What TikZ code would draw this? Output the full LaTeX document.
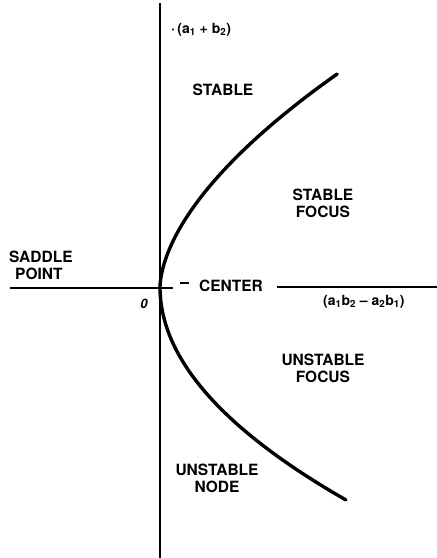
\documentclass[tikz,border=0pt]{standalone}
\usepackage{fontspec}
\setmainfont{TeX Gyre Heros}
\begin{document}
\begin{tikzpicture}[x=1pt,y=-1pt,
  lbl/.style={font=\bfseries\fontsize{15.5}{17}\selectfont, align=center, inner sep=0pt},
  frm/.style={font=\bfseries\fontsize{14}{15}\selectfont, inner sep=0pt},
  axis/.style={line width=1.4pt},
  curve/.style={line width=3.4pt, line cap=round}]
\useasboundingbox (0,0) rectangle (437,558);
% axes
\coordinate (vtop) at (160,3);
\coordinate (vbot) at (160,558);
\draw[axis] (vtop) -- (vbot);
\coordinate (hl) at (10,288);
\coordinate (hm) at (173,288);
\draw[axis] (hl) -- (hm);
\coordinate (hr1) at (277,287);
\coordinate (hr2) at (437,287);
\draw[axis] (hr1) -- (hr2);
\coordinate (d1) at (180,283);
\coordinate (d2) at (189,283);
\draw[line width=1.8pt] (d1) -- (d2);
% parabola-like boundary
\draw[curve] plot[domain=2.13:0, samples=60, smooth] ({160+49*\x^1.7}, {287-100*\x})
  -- plot[domain=0:2.13, samples=60, smooth] ({160+41*\x*\x}, {287+100*\x});
% labels
\node[frm, anchor=west] (yl) at (171,30) {\textperiodcentered\,(a\textsubscript{1} + b\textsubscript{2})};
\node[lbl] (st) at (223,90) {STABLE};
\node[lbl] (sf) at (323,203) {STABLE\\FOCUS};
\node[lbl, align=left, anchor=west] (sp) at (9,265) {SADDLE\\\hspace*{6pt}POINT};
\node[inner sep=0pt, font=\itshape\bfseries\fontsize{13}{14}\selectfont] (o) at (144,304) {0};
\node[lbl] (ce) at (231,286) {CENTER};
\node[frm, anchor=west] (xl) at (323,302) {(a\textsubscript{1}b\textsubscript{2} -- a\textsubscript{2}b\textsubscript{1})};
\node[lbl] (uf) at (323,368) {UNSTABLE\\FOCUS};
\node[lbl] (un) at (217,478) {UNSTABLE\\NODE};
\end{tikzpicture}
\end{document}
